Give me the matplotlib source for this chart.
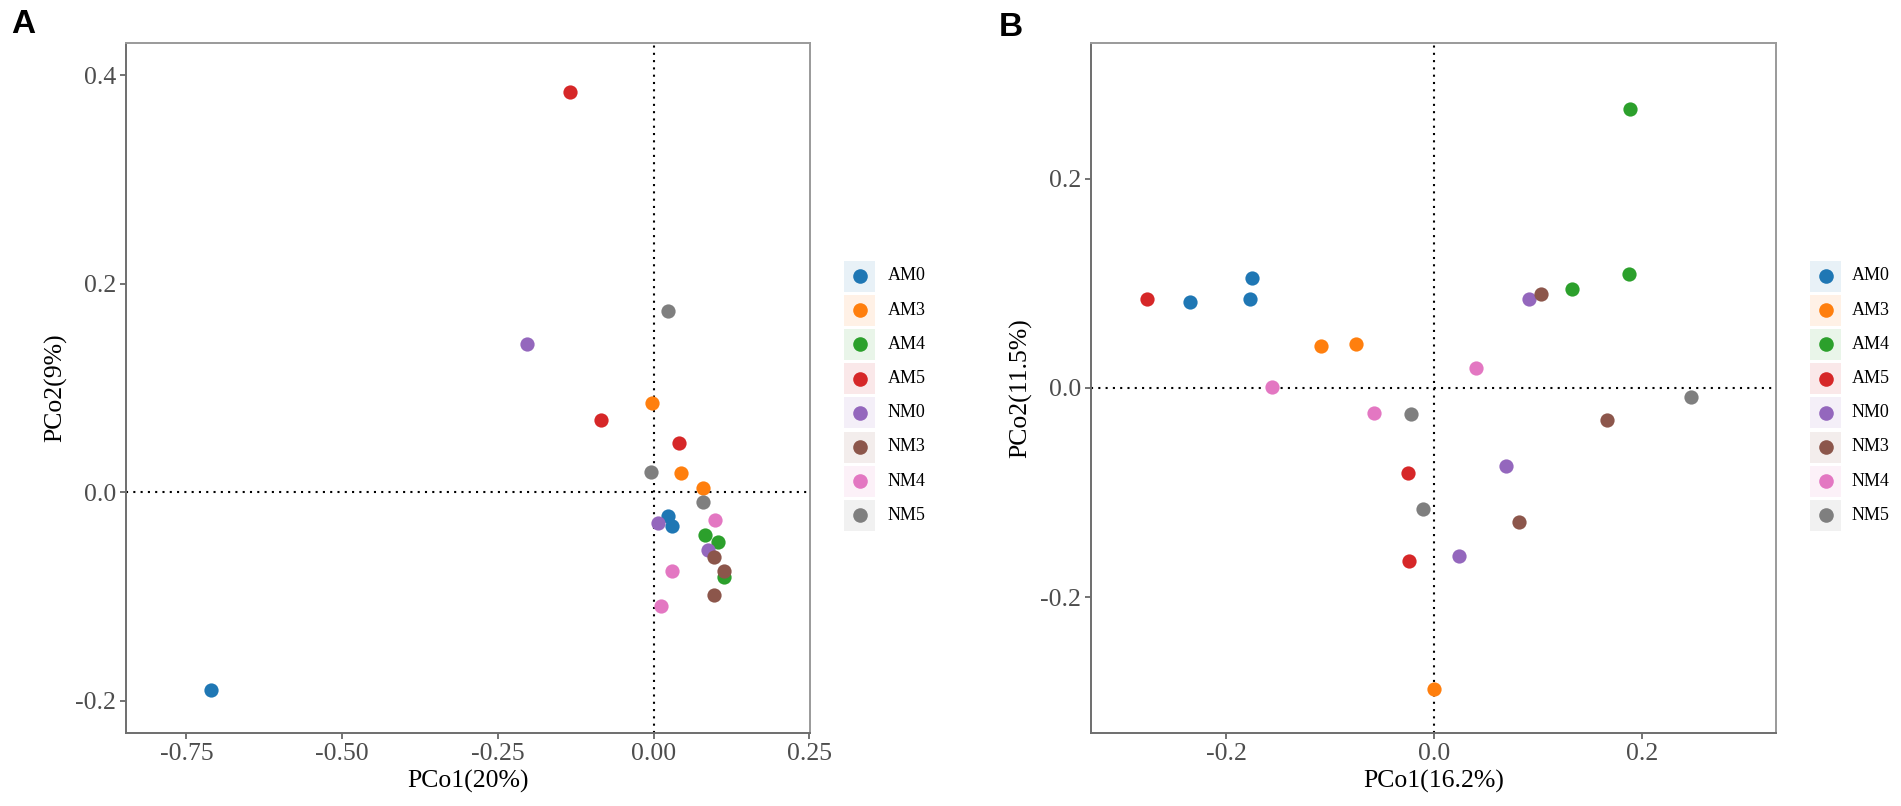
import numpy as np
import matplotlib.pyplot as plt
from matplotlib.patches import Rectangle
from matplotlib.lines import Line2D

plt.rcParams['font.family'] = ['Liberation Serif', 'DejaVu Serif']
plt.rcParams['axes.unicode_minus'] = False

groups = ['AM0', 'AM3', 'AM4', 'AM5', 'NM0', 'NM3', 'NM4', 'NM5']
colors = ['#1F77B4', '#FF7F0E', '#2CA02C', '#D62728',
          '#9467BD', '#8C564B', '#E377C2', '#7F7F7F']

# panel A (PCo1 20%, PCo2 9%)
a_group = ['AM0'] * 3 + ['AM3'] * 3 + ['AM4'] * 3 + ['AM5'] * 3 + \
          ['NM0'] * 3 + ['NM3'] * 3 + ['NM4'] * 3 + ['NM5'] * 3
a_pc1 = [-0.710, 0.023, 0.029,
         -0.002, 0.044, 0.079,
         0.083, 0.103, 0.113,
         -0.135, -0.085, 0.040,
         -0.204, 0.007, 0.088,
         0.097, 0.113, 0.097,
         0.099, 0.029, 0.012,
         0.023, -0.005, 0.079]
a_pc2 = [-0.190, -0.023, -0.032,
         0.086, 0.018, 0.004,
         -0.041, -0.048, -0.081,
         0.384, 0.069, 0.047,
         0.142, -0.030, -0.055,
         -0.062, -0.076, -0.099,
         -0.027, -0.076, -0.109,
         0.174, 0.019, -0.009]

# panel B (PCo1 16.2%, PCo2 11.5%)
b_group = a_group
b_pc1 = [-0.235, -0.175, -0.177,
         -0.109, -0.075, 0.000,
         0.189, 0.188, 0.133,
         -0.276, -0.025, -0.024,
         0.091, 0.069, 0.024,
         0.103, 0.166, 0.082,
         -0.156, 0.040, -0.058,
         -0.022, -0.011, 0.247]
b_pc2 = [0.082, 0.105, 0.085,
         0.040, 0.042, -0.288,
         0.267, 0.109, 0.095,
         0.085, -0.081, -0.165,
         0.085, -0.075, -0.161,
         0.090, -0.031, -0.128,
         0.001, 0.019, -0.024,
         -0.025, -0.116, -0.009]

a_xticks = [-0.75, -0.50, -0.25, 0.00, 0.25]
a_yticks = [-0.2, 0.0, 0.2, 0.4]
b_xticks = [-0.2, 0.0, 0.2]
b_yticks = [-0.2, 0.0, 0.2]

W, H = 1901, 806
fig = plt.figure(figsize=(W / 100, H / 100), dpi=100)


def px_box(left, right, top, bottom):
    return [left / W, 1 - bottom / H, (right - left) / W, (bottom - top) / H]


def draw_panel(ax, pc1, pc2, grp, xlim, ylim, xticks, yticks, xfmt, xlabel, ylabel):
    ax.axhline(0, color='black', lw=1.5, ls=(0, (1, 2.5)), zorder=1)
    ax.axvline(0, color='black', lw=1.5, ls=(0, (1, 2.5)), zorder=1)
    pc1 = np.array(pc1)
    pc2 = np.array(pc2)
    grp = np.array(grp)
    for g, c in zip(groups, colors):
        m = grp == g
        ax.scatter(pc1[m], pc2[m], s=105, color=c, linewidths=0, zorder=3)
    ax.set_xlim(*xlim)
    ax.set_ylim(*ylim)
    ax.set_xticks(xticks)
    ax.set_xticklabels([xfmt % v for v in xticks])
    ax.set_yticks(yticks)
    ax.set_yticklabels(['%.1f' % v for v in yticks])
    ax.tick_params(labelsize=18.5, labelcolor='#4D4D4D', color='#4D4D4D',
                   length=4, width=1.1, pad=3)
    for s in ['top', 'right']:
        ax.spines[s].set_color('#9A9A9A')
        ax.spines[s].set_linewidth(1.4)
    for s in ['left', 'bottom']:
        ax.spines[s].set_color('#6E6E6E')
        ax.spines[s].set_linewidth(1.4)
    ax.set_xlabel(xlabel, fontsize=18.5, labelpad=4)
    ax.set_ylabel(ylabel, fontsize=18.5, labelpad=6)


def draw_legend(key_left, text_left, first_y):
    for i, (g, c) in enumerate(zip(groups, colors)):
        cy = first_y + i * 34.2
        fig.patches.append(Rectangle(((key_left) / W, 1 - (cy + 15.5) / H),
                                     31 / W, 31 / H, transform=fig.transFigure,
                                     facecolor=c, alpha=0.1, edgecolor='none'))
        fig.add_artist(Line2D([(key_left + 15.5) / W], [1 - cy / H],
                              transform=fig.transFigure, marker='o',
                              markersize=10.5, color=c, markeredgewidth=0))
        fig.text(text_left / W, 1 - cy / H, g, fontsize=13, va='center',
                 ha='left', color='black')


axA = fig.add_axes(px_box(126, 810, 43, 733))
draw_panel(axA, a_pc1, a_pc2, a_group, (-0.847, 0.251), (-0.231, 0.431),
           a_xticks, a_yticks, '%.2f', 'PCo1(20%)', 'PCo2(9%)')
draw_legend(844, 888, 276)

axB = fig.add_axes(px_box(1091, 1776, 43, 733))
draw_panel(axB, b_pc1, b_pc2, b_group, (-0.33, 0.329), (-0.330, 0.330),
           b_xticks, b_yticks, '%.1f', 'PCo1(16.2%)', 'PCo2(11.5%)')
draw_legend(1810, 1852, 276)

fig.text(11 / W, 1 - 9 / H, 'A', fontsize=24, fontweight='bold',
         family='Liberation Sans', va='top', ha='left')
fig.text(999 / W, 1 - 12 / H, 'B', fontsize=24, fontweight='bold',
         family='Liberation Sans', va='top', ha='left')

fig.savefig('out.png', dpi=100, facecolor='white')
